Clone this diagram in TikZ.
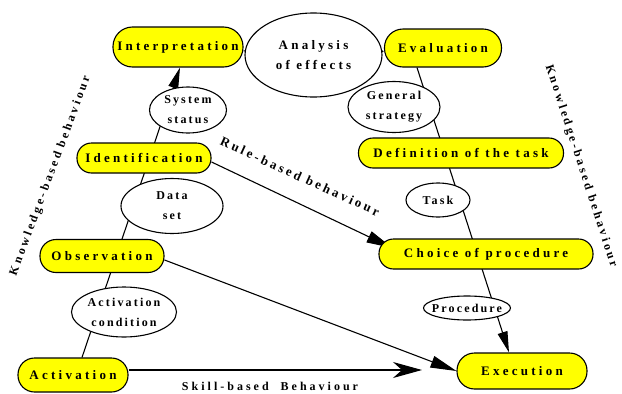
\documentclass[tikz,border=0pt]{standalone}
\usepackage{fontspec}
\setmainfont{Liberation Serif}
\newfontfamily\fntBox[LetterSpace=25]{Liberation Serif}
\newfontfamily\fntEll[LetterSpace=18]{Liberation Serif}
\newfontfamily\fntKnow[LetterSpace=24]{Liberation Serif}
\newfontfamily\fntRule[LetterSpace=22]{Liberation Serif}
\usetikzlibrary{shapes.geometric,arrows.meta,backgrounds}
\definecolor{boxyellow}{RGB}{255,255,0}
\begin{document}
\begin{tikzpicture}[x=1pt,y=-1pt,
  pill/.style={draw=black,line width=1.1pt,fill=boxyellow,rectangle,inner sep=0pt,
    font=\fntBox\bfseries\fontsize{13}{15}\selectfont},
  oval/.style={draw=black,line width=1.1pt,fill=white,ellipse,inner sep=0pt,align=center,
    font=\fntEll\bfseries\fontsize{12}{20}\selectfont},
  conn/.style={draw=black,line width=1.1pt},
  bigtip/.style={-{Triangle[length=21pt,width=10pt]}},
  midtip/.style={-{Triangle[length=26pt,width=12pt]}},
  smalltip/.style={-{Triangle[length=5pt,width=5pt]}},
  skilltip/.style={-{Stealth[length=29pt,width=16pt,inset=9pt]}},
  sidetext/.style={font=\fntKnow\bfseries\fontsize{12}{14}\selectfont,inner sep=0pt},
  ruletext/.style={font=\fntRule\bfseries\fontsize{13}{15}\selectfont,inner sep=0pt},
  skilltext/.style={font=\fntBox\bfseries\fontsize{12}{14}\selectfont,inner sep=0pt}]
\useasboundingbox (0,0) rectangle (622,394);

% boxes
\node[pill,minimum width=130pt,minimum height=40pt,rounded corners=19.5pt] (interp) at (178,47) {Interpretation};
\node[pill,minimum width=117pt,minimum height=38pt,rounded corners=18.5pt] (eval) at (443,48) {Evaluation};
\node[pill,minimum width=134pt,minimum height=30pt,rounded corners=14.5pt] (ident) at (144,158) {Identification};
\node[pill,minimum width=205pt,minimum height=30pt,rounded corners=14.5pt] (deftask) at (461,153) {Definition of the task};
\node[pill,minimum width=124pt,minimum height=33pt,rounded corners=16pt] (obs) at (102,256) {Observation};
\node[pill,minimum width=214pt,minimum height=30pt,rounded corners=14.5pt] (choice) at (486,254) {Choice of procedure};
\node[pill,minimum width=110pt,minimum height=34pt,rounded corners=16.5pt] (act) at (73,375) {Activation};
\node[pill,minimum width=130pt,minimum height=36pt,rounded corners=17.5pt] (exec) at (522,371) {Execution};

% ellipses
\node[oval,minimum width=137pt,minimum height=84pt,font=\fntBox\bfseries\fontsize{13}{20}\selectfont] (analysis) at (313.5,55) {Analysis\\of effects};
\node[oval,minimum width=77pt,minimum height=46pt] (sysstat) at (188,110) {System\\status};
\node[oval,minimum width=92pt,minimum height=51pt] (genstrat) at (394,107) {General\\strategy};
\node[oval,minimum width=102pt,minimum height=55pt] (dataset) at (172,206) {Data\\set};
\node[oval,minimum width=64pt,minimum height=34pt] (task) at (438,200) {Task};
\node[oval,minimum width=105pt,minimum height=50pt] (actcond) at (124,312) {Activation\\condition};
\node[oval,minimum width=87pt,minimum height=24pt,inner xsep=-9pt] (proc) at (467,308) {Procedure};

% free end of the skill-based arrow
\coordinate (skillend) at (422,370);

% labels
\node[sidetext,rotate=69.6] (kbl) at (50.5,176) {Knowledge-based behaviour};
\node[sidetext,rotate=-72] (kbr) at (581,166) {Knowledge-based behaviour};
\node[ruletext,rotate=-24.5] (rbl) at (300,176.5) {Rule-based behaviour};
\node[skilltext] (sbl) at (270,386) {Skill-based\ \ Behaviour};

% connectors
\begin{pgfonlayer}{background}
\draw[conn,bigtip] ([xshift=9pt]act.north) -- ([xshift=2pt]interp.south);
\draw[conn] (interp) -- (analysis);
\draw[conn,smalltip] (analysis) -- (eval);
\draw[conn,bigtip] ([xshift=-26pt]eval.south) -- ([xshift=-13pt]exec.north);
\draw[conn,midtip] ([yshift=-4pt]ident.east) -- ([xshift=14pt,yshift=6pt]choice.west);
\draw[conn,midtip] ([yshift=-4pt]obs.east) -- (exec.west);
\draw[conn,skilltip] (act.east |- skillend) -- (skillend);
\end{pgfonlayer}
\end{tikzpicture}
\end{document}
